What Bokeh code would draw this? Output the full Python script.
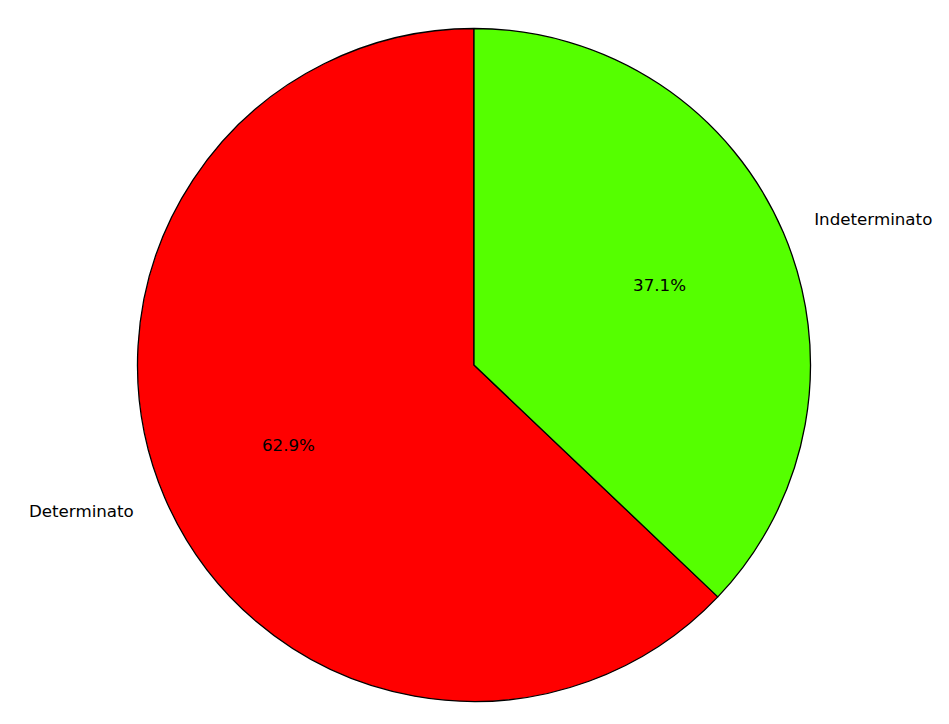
import numpy as np
from bokeh.plotting import figure
from bokeh.models import Range1d, ColumnDataSource
from bokeh.core.properties import value
from bokeh.embed import file_html
from bokeh.resources import INLINE

categories = ["Determinato", "Indeterminato"]
shares = [62.9, 37.1]
colors = ["#ff0000", "#55ff00"]

W, H = 933, 708
R_PX = 336.5
cx_px, cy_px = 473.5, 364.5

vals = np.array(shares, dtype=float)
frac = vals / vals.sum()
start_deg = 90.0
ends = start_deg + np.cumsum(frac) * 360.0
starts = ends - frac * 360.0
mids = np.deg2rad((starts + ends) / 2.0)

src = ColumnDataSource(dict(
    start=np.deg2rad(starts), end=np.deg2rad(ends), color=colors,
))

p = figure(width=W, height=H, output_backend="svg", toolbar_location=None,
           x_range=Range1d(-cx_px / R_PX, (W - cx_px) / R_PX),
           y_range=Range1d(-(H - cy_px) / R_PX, cy_px / R_PX),
           min_border=0)
p.axis.visible = False
p.grid.visible = False
p.outline_line_color = None
p.background_fill_color = "white"
p.border_fill_color = "white"

p.wedge(x=0, y=0, radius=1.0, start_angle="start", end_angle="end",
        direction="anticlock", fill_color="color", line_color="black",
        line_width=1.3, source=src)

lx = 1.1 * np.cos(mids)
ly = 1.1 * np.sin(mids)
align = ["right" if x < 0 else "left" for x in lx]
lab = ColumnDataSource(dict(x=lx, y=ly, t=categories, a=align))
p.text(x="x", y="y", text="t", text_align="a", text_baseline="middle",
       text_font=value("DejaVu Sans"), text_font_size="16.7px",
       text_color="black", source=lab)

px = 0.6 * np.cos(mids)
py = 0.6 * np.sin(mids)
pct = ["%.1f%%" % (f * 100) for f in frac]
pl = ColumnDataSource(dict(x=px, y=py, t=pct))
p.text(x="x", y="y", text="t", text_align="center", text_baseline="middle",
       text_font=value("DejaVu Sans"), text_font_size="16.7px",
       text_color="black", source=pl)

open("out.html", "w").write(file_html(p, INLINE))
